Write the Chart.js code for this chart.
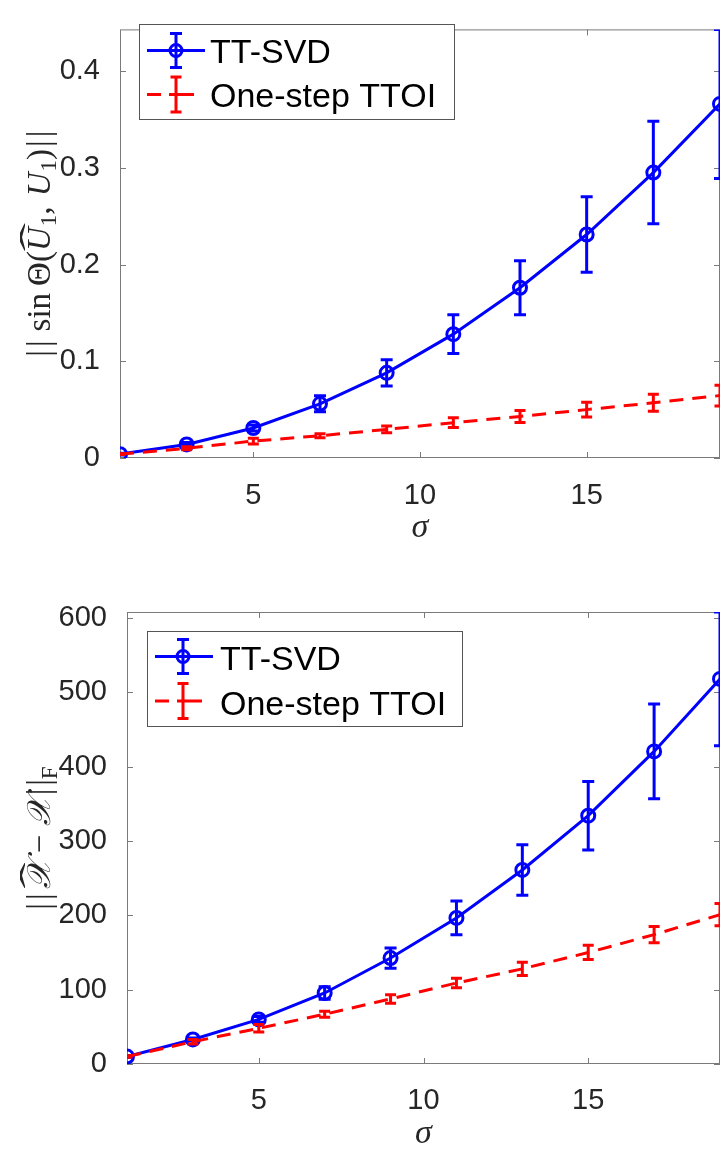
<!DOCTYPE html>
<html>
<head>
<meta charset="utf-8">
<script src="https://cdn.jsdelivr.net/npm/chart.js@4.4.1/dist/chart.umd.min.js"></script>
<style>
  html, body { margin: 0; padding: 0; background: #fff; }
  #wrap { position: relative; width: 721px; height: 1152px; }
  canvas { position: absolute; left: 0; }
  #sinChart { top: 0; }
  #froChart { top: 560px; }
</style>
</head>
<body>
<div id="wrap">
  <canvas id="sinChart" width="721" height="560"></canvas>
  <canvas id="froChart" width="721" height="592"></canvas>
</div>
<script>
// Noise level on the horizontal axis
const sigma = [1, 3, 5, 7, 9, 11, 13, 15, 17, 19];
const seriesNames = ['TT-SVD', 'One-step TTOI'];

// Subspace error ||sin Θ(Û1, U1)||: mean and error-bar half width
const ttsvdSin     = [0.004, 0.014, 0.031, 0.056, 0.088, 0.128, 0.176, 0.231, 0.295, 0.366];
const ttsvdSinErr  = [0.001, 0.002, 0.003, 0.0083, 0.0135, 0.020, 0.028, 0.039, 0.053, 0.077];
const ttoiSin      = [0.004, 0.010, 0.0175, 0.023, 0.0296, 0.0365, 0.043, 0.050, 0.057, 0.0645];
const ttoiSinErr   = [0.0005, 0.0015, 0.003, 0.002, 0.0034, 0.005, 0.0062, 0.0075, 0.0088, 0.0108];

// Tensor recovery error ||X̂ − X||_F: mean and error-bar half width
const ttsvdFro     = [10, 33, 60, 95.5, 142.5, 196.5, 261, 334, 420.5, 518];
const ttsvdFroErr  = [1, 2, 4, 8.5, 13.7, 22.6, 34, 46, 63.7, 90];
const ttoiFro      = [10, 30, 48, 67, 87.5, 109, 128, 150, 174, 201];
const ttoiFroErr   = [1, 3, 5, 4, 5.8, 6.3, 9, 9.6, 11, 15];

// Tick positions
const xTicks = [5, 10, 15];
const yTicksSin = [0, 0.1, 0.2, 0.3, 0.4];
const yTicksFro = [0, 100, 200, 300, 400, 500, 600];

const BLUE = '#0000ff';
const RED = '#ff0000';
const SANS = '"Liberation Sans", Arial, Helvetica, sans-serif';
const SERIF = '"Liberation Serif", "Times New Roman", serif';
const AXIS_COLOR = '#7a7a7a';

// Box around the axes with inward tick marks on all four sides
const framePlugin = {
  id: 'frame',
  beforeDatasetsDraw(chart) {
    const { ctx, chartArea: a, scales: { x, y } } = chart;
    ctx.save();
    ctx.strokeStyle = AXIS_COLOR;
    ctx.lineWidth = 1;
    ctx.strokeRect(a.left + 0.5, a.top + 0.5, a.right - a.left - 1, a.bottom - a.top - 1);
    const tl = 6;
    ctx.beginPath();
    x.ticks.forEach(t => {
      const px = Math.round(x.getPixelForValue(t.value)) + 0.5;
      ctx.moveTo(px, a.bottom); ctx.lineTo(px, a.bottom - tl);
      ctx.moveTo(px, a.top); ctx.lineTo(px, a.top + tl);
    });
    y.ticks.forEach(t => {
      const py = Math.round(y.getPixelForValue(t.value)) + 0.5;
      ctx.moveTo(a.left, py); ctx.lineTo(a.left + tl, py);
      ctx.moveTo(a.right, py); ctx.lineTo(a.right - tl, py);
    });
    ctx.stroke();
    ctx.restore();
  }
};

// Vertical error bars with caps, drawn right after their own series
const errorBarPlugin = {
  id: 'errorBars',
  afterDatasetDraw(chart, args) {
    const ds = chart.data.datasets[args.index];
    if (!ds.errors) return;
    const { ctx, chartArea: a, scales: { x, y } } = chart;
    ctx.save();
    ctx.beginPath();
    ctx.rect(a.left, a.top, a.right - a.left, a.bottom - a.top);
    ctx.clip();
    ctx.strokeStyle = ds.borderColor;
    ctx.lineWidth = 3;
    ctx.setLineDash([]);
    ctx.lineCap = 'butt';
    ds.data.forEach((p, i) => {
      const px = x.getPixelForValue(p.x);
      const yt = y.getPixelForValue(p.y + ds.errors[i]);
      const yb = y.getPixelForValue(p.y - ds.errors[i]);
      const h = ds.capHalf;
      ctx.beginPath();
      ctx.moveTo(px, yt); ctx.lineTo(px, yb);
      ctx.moveTo(px - h, yt); ctx.lineTo(px + h, yt);
      ctx.moveTo(px - h, yb); ctx.lineTo(px + h, yb);
      ctx.stroke();
    });
    ctx.restore();
  }
};

// Rotated axis title built from pieces with their own font and baseline shift
function drawRotatedTitle(ctx, pieces, baseX, centerY) {
  ctx.save();
  ctx.fillStyle = '#262626';
  ctx.textBaseline = 'alphabetic';
  let total = 0;
  pieces.forEach(p => { ctx.font = p.font; p.w = ctx.measureText(p.t).width + (p.gap || 0); total += p.w; });
  ctx.translate(baseX, centerY);
  ctx.rotate(-Math.PI / 2);
  let cx = -total / 2;
  pieces.forEach(p => {
    ctx.font = p.font;
    ctx.fillText(p.t, cx + (p.pre || 0), p.dy || 0);
    if (p.hat) {
      const hw = p.w - (p.gap || 0);
      ctx.save();
      ctx.translate(cx + hw / 2 + p.hat.dx, p.hat.dy);
      ctx.scale(p.hat.sx, 1);
      ctx.font = p.hat.font;
      ctx.textAlign = 'center';
      ctx.fillText('\u02C6', 0, 0);
      ctx.restore();
    }
    cx += p.w;
  });
  ctx.restore();
}

function drawLegend(ctx, L) {
  ctx.save();
  ctx.fillStyle = '#fff';
  ctx.fillRect(L.box[0], L.box[1], L.box[2], L.box[3]);
  ctx.strokeStyle = '#555';
  ctx.lineWidth = 1;
  ctx.strokeRect(L.box[0] + 0.5, L.box[1] + 0.5, L.box[2], L.box[3]);
  ctx.lineWidth = 3;
  ctx.lineCap = 'butt';
  // first entry: solid line, error bar, open circle
  let yc = L.rows[0];
  ctx.strokeStyle = BLUE;
  ctx.beginPath();
  ctx.moveTo(L.line[0], yc); ctx.lineTo(L.line[1], yc);
  ctx.moveTo(L.mid, yc - 17); ctx.lineTo(L.mid, yc + 17);
  ctx.moveTo(L.mid - 6, yc - 17); ctx.lineTo(L.mid + 6, yc - 17);
  ctx.moveTo(L.mid - 6, yc + 17); ctx.lineTo(L.mid + 6, yc + 17);
  ctx.stroke();
  ctx.beginPath();
  ctx.arc(L.mid, yc, 6, 0, Math.PI * 2);
  ctx.stroke();
  // second entry: dashed line and error bar
  yc = L.rows[1];
  ctx.strokeStyle = RED;
  ctx.beginPath();
  ctx.moveTo(L.line[0], yc); ctx.lineTo(L.line[0] + 14, yc);
  ctx.moveTo(L.line[0] + 22, yc); ctx.lineTo(L.line[0] + 47, yc);
  ctx.moveTo(L.mid, yc - 17.5); ctx.lineTo(L.mid, yc + 17.5);
  ctx.moveTo(L.mid - 5.5, yc - 17.5); ctx.lineTo(L.mid + 5.5, yc - 17.5);
  ctx.moveTo(L.mid - 5.5, yc + 17.5); ctx.lineTo(L.mid + 5.5, yc + 17.5);
  ctx.stroke();
  ctx.fillStyle = '#000';
  ctx.font = '34px ' + SANS;
  ctx.textBaseline = 'alphabetic';
  ctx.fillText(seriesNames[0], L.textX, L.base[0]);
  ctx.fillText(seriesNames[1], L.textX, L.base[1]);
  ctx.restore();
}

const textPlugin = {
  id: 'texts',
  afterDraw(chart) {
    const o = chart.options.plugins.texts;
    const { ctx, chartArea: a } = chart;
    drawRotatedTitle(ctx, o.yTitle, o.yTitleX, (a.top + a.bottom) / 2);
    ctx.save();
    ctx.fillStyle = '#262626';
    ctx.font = 'italic 34px ' + SERIF;
    ctx.textAlign = 'center';
    ctx.textBaseline = 'alphabetic';
    ctx.fillText('\u03C3', (a.left + a.right) / 2, o.xTitleY);
    ctx.restore();
    drawLegend(ctx, o.legend);
  }
};

function buildChart(id, cfg) {
  return new Chart(document.getElementById(id), {
    type: 'line',
    data: {
      datasets: [
        {
          label: seriesNames[0],
          data: sigma.map((s, i) => ({ x: s, y: cfg.a[i] })),
          errors: cfg.aErr,
          capHalf: 6,
          borderColor: BLUE,
          backgroundColor: BLUE,
          borderWidth: 3,
          pointRadius: 6.5,
          pointHoverRadius: 6.5,
          pointBorderWidth: 3,
          pointBorderColor: BLUE,
          pointBackgroundColor: 'rgba(0,0,0,0)',
          tension: 0,
          order: 2
        },
        {
          label: seriesNames[1],
          data: sigma.map((s, i) => ({ x: s, y: cfg.b[i] })),
          errors: cfg.bErr,
          capHalf: 5.5,
          borderColor: RED,
          backgroundColor: RED,
          borderWidth: 3,
          borderDash: [14, 9],
          pointRadius: 0,
          pointHoverRadius: 0,
          tension: 0,
          order: 1
        }
      ]
    },
    options: {
      responsive: false,
      animation: false,
      devicePixelRatio: 1,
      events: [],
      layout: { autoPadding: false, padding: { left: 0, right: 1, top: cfg.padTop, bottom: 0 } },
      plugins: {
        legend: { display: false },
        tooltip: { enabled: false },
        texts: cfg.texts
      },
      scales: {
        x: {
          type: 'linear',
          min: 1,
          max: 19,
          grid: { display: false },
          border: { display: false },
          afterBuildTicks: s => { s.ticks = xTicks.map(v => ({ value: v })); },
          afterFit: s => { s.height = cfg.xh; },
          ticks: {
            font: { family: SANS, size: 29 },
            color: '#262626',
            padding: cfg.xpad,
            maxRotation: 0,
            autoSkip: false,
            callback: v => String(v)
          }
        },
        y: {
          type: 'linear',
          min: 0,
          max: cfg.ymax,
          grid: { display: false },
          border: { display: false },
          afterBuildTicks: s => { s.ticks = cfg.yTicks.map(v => ({ value: v })); },
          afterFit: s => { s.width = cfg.yw; },
          ticks: {
            font: { family: SANS, size: 29 },
            color: '#262626',
            padding: 12,
            autoSkip: false,
            callback: cfg.fmt
          }
        }
      }
    },
    plugins: [framePlugin, errorBarPlugin, textPlugin]
  });
}

const S = 33;
const up = S + 'px ' + SERIF;
const it = 'italic ' + S + 'px ' + SERIF;
const sub = Math.round(S * 0.7) + 'px ' + SERIF;
const hatFont = S + 'px ' + SERIF;

buildChart('sinChart', {
  a: ttsvdSin, aErr: ttsvdSinErr, b: ttoiSin, bErr: ttoiSinErr,
  ymax: 0.443, yTicks: yTicksSin,
  fmt: v => (v === 0 ? '0' : v.toFixed(1)),
  padTop: 4, xh: 102, yw: 120, xpad: 13,
  texts: {
    yTitleX: 50,
    xTitleY: 537,
    yTitle: [
      { t: '|', font: up, gap: 3 },
      { t: '|', font: up, gap: 9 },
      { t: 'sin', font: up, gap: 7 },
      { t: '\u0398(', font: up },
      { t: 'U', font: it, gap: 1, hat: { font: hatFont, sx: 2.6, dx: 2, dy: -6 } },
      { t: '1', font: sub, dy: 6 },
      { t: ', ', font: up, gap: 2 },
      { t: 'U', font: it, gap: 1 },
      { t: '1', font: sub, dy: 6 },
      { t: ')', font: up, gap: 2 },
      { t: '|', font: up, gap: 3 },
      { t: '|', font: up }
    ],
    legend: {
      box: [139, 24, 315, 95], rows: [50.5, 94.5], line: [147, 205], mid: 176,
      textX: 210, base: [63, 107]
    }
  }
});

buildChart('froChart', {
  a: ttsvdFro, aErr: ttsvdFroErr, b: ttoiFro, bErr: ttoiFroErr,
  ymax: 608, yTicks: yTicksFro,
  fmt: v => String(v),
  padTop: 52, xh: 88, yw: 127, xpad: 12,
  texts: {
    yTitleX: 50,
    xTitleY: 583,
    yTitle: [
      { t: '|', font: up, gap: 3 },
      { t: '|', font: up, gap: 4 },
      { t: '\uD835\uDCB3', font: it, hat: { font: hatFont, sx: 2.4, dx: 0, dy: -6 } },
      { t: ' \u2212 ', font: up },
      { t: '\uD835\uDCB3', font: it, gap: 3 },
      { t: '|', font: up, gap: 3 },
      { t: '|', font: up },
      { t: 'F', font: sub, dy: 7 }
    ],
    legend: {
      box: [147, 71, 315, 95], rows: [96.5, 141], line: [155, 213], mid: 183,
      textX: 220, base: [110, 155]
    }
  }
});
</script>
</body>
</html>
